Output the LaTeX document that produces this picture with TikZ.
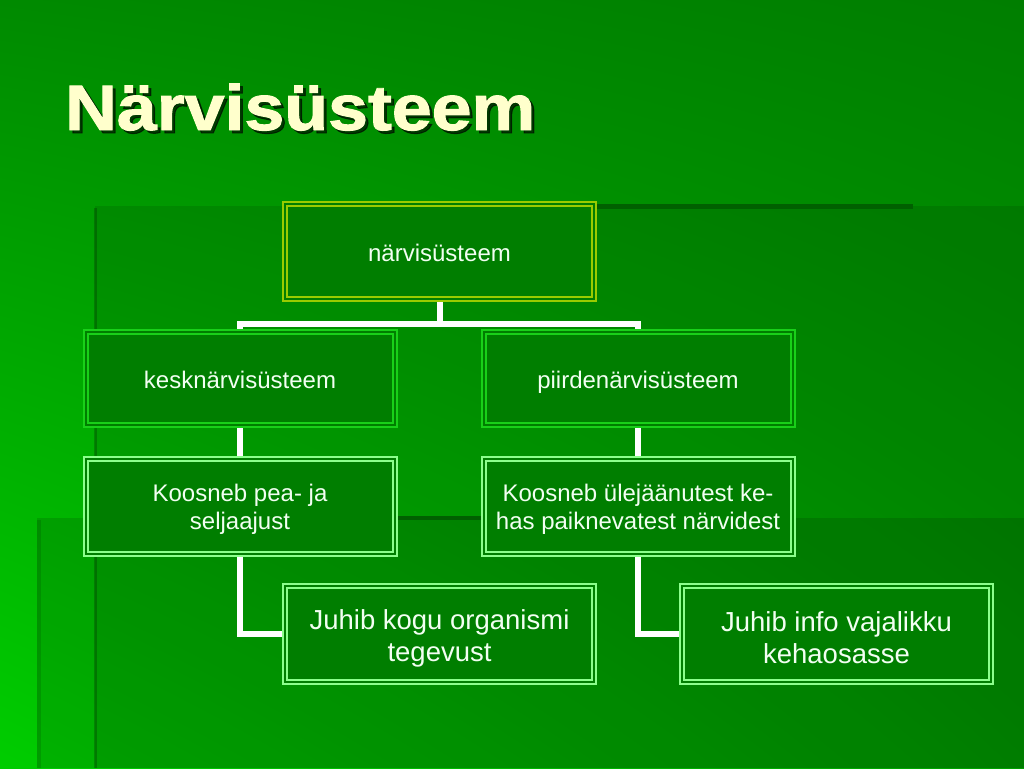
\documentclass[tikz,border=0pt]{standalone}
\usepackage{fontspec}
\setmainfont{Liberation Sans}
\newfontfamily\titlefont[FakeBold=1.5]{Liberation Sans Bold}
\usetikzlibrary{backgrounds,shadings}

\definecolor{boxfill}{RGB}{0,126,0}
\definecolor{topborder}{RGB}{153,204,0}
\definecolor{midborder}{RGB}{25,208,25}
\definecolor{lowborder}{RGB}{140,255,140}
\definecolor{titlecol}{RGB}{255,255,204}
\definecolor{txtcol}{RGB}{242,255,242}
\definecolor{edgedark}{RGB}{0,96,0}
\definecolor{bgUL}{RGB}{0,138,0}
\definecolor{bgUR}{RGB}{0,126,0}
\definecolor{bgLL}{RGB}{0,205,0}
\definecolor{bgLR}{RGB}{0,160,0}

\newcommand{\lowertext}[2]{\raisebox{-#1}[\height][\depth]{\parbox{300pt}{\centering #2}}}

\begin{document}
\begin{tikzpicture}[x=1pt,y=-1pt,
  box/.style={rectangle, fill=boxfill, draw=#1, double=boxfill,
    double distance=2pt, line width=2pt, minimum width=309pt,
    minimum height=95pt, inner sep=0pt, text=txtcol, align=center},
  small/.style={font=\fontsize{24}{28}\selectfont},
  big/.style={font=\fontsize{27.5}{32}\selectfont},
  oneline/.style={text height=21pt, text depth=1pt},
  conn/.style={draw=white, line width=6pt}]

\useasboundingbox (0,0) rectangle (1024,768);

% title
\node[anchor=base west, inner sep=0pt, text=black, opacity=0.6,
  font=\titlefont\fontsize{64}{64}\selectfont] (titleshadow) at (68,133)
  {\scalebox{1.12}[1]{Närvisüsteem}};
\node[anchor=base west, inner sep=0pt, text=titlecol,
  font=\titlefont\fontsize{64}{64}\selectfont] (title) at (65,130)
  {\scalebox{1.12}[1]{Närvisüsteem}};

% boxes
\node[box=topborder, small, oneline] (top) at (439.5,251.5) {närvisüsteem};
\node[box=midborder, small, oneline, minimum height=93pt] (kesk) at (240,378.5) {kesknärvisüsteem};
\node[box=midborder, small, oneline, minimum height=93pt] (piirde) at (638,378.5) {piirdenärvisüsteem};
\node[box=lowborder, small] (kesk3) at (240,506.5) {\lowertext{3pt}{Koosneb pea- ja\\seljaajust}};
\node[box=lowborder, small] (piirde3) at (638,506.5) {\lowertext{3pt}{Koosneb ülejäänutest ke-\\has paiknevatest närvidest}};
\node[box=lowborder, big, minimum height=96pt] (juhib1) at (439.5,634) {\lowertext{4pt}{Juhib kogu organismi\\tegevust}};
\node[box=lowborder, big, minimum height=96pt] (juhib2) at (836.5,634) {\lowertext{4pt}{Juhib info vajalikku\\kehaosasse}};

\begin{scope}[on background layer]
  % slide background
  \shade[upper left=bgUL, upper right=bgUR, lower left=bgLL, lower right=bgLR]
    (0,0) rectangle (1024,768);
  % translucent panels
  \fill[black, opacity=0.10] (95,206) rectangle (1024,768);
  \fill[black, opacity=0.12] (37,518) rectangle (1024,768);
  \draw[edgedark, line width=5pt] (400,206) -- (913,206);
  \draw[black, opacity=0.22, line width=3pt] (95,208) -- (95,768);
  \draw[edgedark, line width=4pt] (300,518) -- (700,518);
  \draw[black, opacity=0.12, line width=4pt] (39,520) -- (39,768);
  % connectors
  \draw[conn] (top.center) -- (top.center |- 0,324) -| (kesk.center);
  \draw[conn] (top.center) -- (top.center |- 0,324) -| (piirde.center);
  \draw[conn] (kesk.center) -- (kesk3.center);
  \draw[conn] (piirde.center) -- (piirde3.center);
  \draw[conn] (kesk3.center) |- (juhib1.center);
  \draw[conn] (piirde3.center) |- (juhib2.center);
\end{scope}
\end{tikzpicture}
\end{document}
